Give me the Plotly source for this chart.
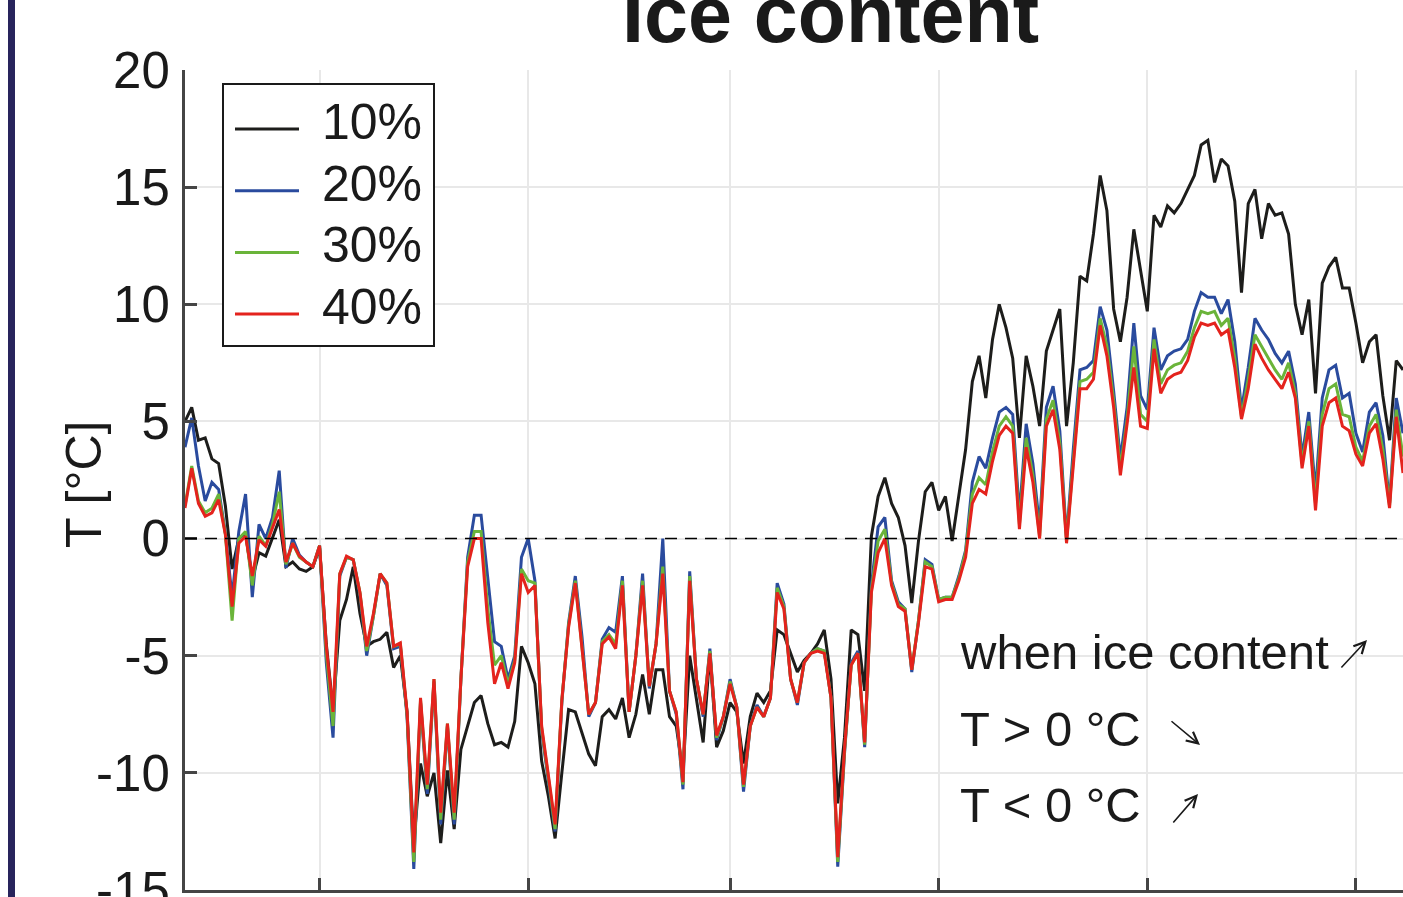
import plotly.graph_objects as go

# daily temperatures [°C] for different ice contents
t_10 = [5.0, 5.6, 4.2, 4.3, 3.4, 3.2, 1.4, -1.3, 0.0, 0.24, -1.75, -0.6, -0.75, 0.0, 0.8, -1.2, -1.0, -1.3, -1.4, -1.2,
        -0.4, -4.5, -7.3, -3.5, -2.6, -1.2, -3.2, -4.6, -4.4, -4.3, -4.0, -5.5, -5.0, -7.4, -13.0, -9.6, -11.0, -10.0, -13.0, -9.9,
        -12.4, -9.0, -8.0, -7.0, -6.7, -7.9, -8.8, -8.7, -8.9, -7.8, -4.6, -5.3, -6.2, -9.5, -11.0, -12.8, -10.0, -7.3, -7.4, -8.3,
        -9.2, -9.7, -7.6, -7.3, -7.7, -6.8, -8.5, -7.5, -5.8, -7.5, -5.6, -5.6, -7.6, -8.0, -10.0, -5.0, -6.8, -8.7, -4.9, -8.9,
        -8.2, -7.0, -7.4, -9.6, -7.6, -6.6, -7.0, -6.5, -3.9, -4.1, -4.9, -5.7, -5.2, -4.9, -4.5, -3.9, -6.0, -11.3, -8.5, -3.9,
        -4.1, -6.5, 0.1, 1.8, 2.6, 1.5, 0.9, -0.3, -2.75, -0.1, 2.0, 2.4, 1.2, 1.8, -0.1, 1.9, 3.8, 6.7, 7.8, 6.0,
        8.5, 10.0, 9.0, 7.7, 4.3, 7.8, 6.5, 4.8, 8.0, 8.9, 9.8, 4.8, 7.5, 11.2, 11.0, 13.0, 15.5, 14.0, 9.8, 8.4,
        10.3, 13.2, 11.5, 9.7, 13.8, 13.3, 14.2, 13.9, 14.3, 14.9, 15.5, 16.8, 17.0, 15.2, 16.2, 15.9, 14.4, 10.5, 14.3, 14.9,
        12.8, 14.3, 13.8, 13.9, 13.0, 10.0, 8.7, 10.2, 6.2, 10.9, 11.6, 12.0, 10.7, 10.7, 9.2, 7.5, 8.4, 8.7, 6.1, 4.2,
        7.6, 7.2]
t_20 = [3.9, 5.15, 3.1, 1.6, 2.4, 2.1, 0.24, -2.5, 0.3, 1.9, -2.5, 0.6, 0.0, 0.9, 2.9, -1.25, 0.0, -0.7, -1.0, -1.2,
        -0.3, -5.3, -8.5, -1.6, -0.8, -0.9, -2.4, -5.0, -3.3, -1.5, -2.0, -4.7, -4.6, -7.6, -14.1, -7.0, -10.9, -6.1, -12.2, -8.0,
        -12.2, -6.0, -0.8, 1.0, 1.0, -1.75, -4.4, -4.6, -6.0, -5.0, -0.8, 0.0, -1.8, -8.2, -10.3, -12.5, -7.0, -3.6, -1.6, -4.2,
        -7.6, -7.0, -4.3, -3.8, -4.0, -1.6, -7.4, -5.0, -1.5, -6.4, -4.5, 0.0, -6.5, -7.5, -10.7, -1.4, -6.0, -7.6, -4.7, -8.6,
        -7.6, -6.0, -7.2, -10.8, -8.0, -7.1, -7.6, -6.8, -1.9, -2.8, -6.0, -7.1, -5.3, -4.9, -4.7, -4.8, -6.8, -14.0, -9.2, -5.3,
        -4.8, -8.9, -2.0, 0.5, 0.9, -1.8, -2.7, -3.0, -5.7, -3.5, -0.9, -1.1, -2.6, -2.5, -2.5, -1.6, -0.5, 2.4, 3.5, 3.0,
        4.3, 5.4, 5.6, 5.3, 1.0, 4.9, 3.2, 0.5, 5.6, 6.5, 4.6, 0.0, 3.8, 7.2, 7.3, 7.6, 9.9, 8.9, 6.3, 3.4,
        5.6, 9.2, 6.1, 5.5, 9.0, 7.2, 7.8, 8.0, 8.1, 8.5, 9.7, 10.5, 10.3, 10.3, 9.6, 10.2, 8.4, 5.5, 7.3, 9.4,
        8.9, 8.5, 7.9, 7.5, 8.0, 6.6, 3.5, 5.4, 2.0, 6.0, 7.2, 7.4, 6.0, 6.2, 4.5, 3.7, 5.4, 5.8, 4.4, 1.5,
        6.0, 4.5]
t_30 = [1.4, 3.1, 1.6, 1.1, 1.3, 1.9, 0.2, -3.5, 0.0, 0.3, -2.0, 0.1, -0.3, 0.6, 2.0, -1.1, -0.2, -0.8, -1.0, -1.2,
        -0.3, -4.9, -8.0, -1.5, -0.8, -0.9, -2.3, -4.8, -3.3, -1.5, -1.9, -4.6, -4.5, -7.5, -13.8, -6.9, -10.7, -6.0, -12.0, -7.9,
        -12.0, -6.0, -1.0, 0.3, 0.3, -3.0, -5.4, -5.0, -6.2, -5.2, -1.3, -1.8, -1.9, -8.1, -10.2, -12.4, -6.9, -3.7, -1.8, -4.6,
        -7.5, -7.0, -4.4, -4.1, -4.5, -1.8, -7.4, -5.0, -1.8, -6.3, -4.5, -1.2, -6.5, -7.4, -10.5, -1.6, -6.0, -7.5, -4.8, -8.5,
        -7.6, -6.1, -7.2, -10.6, -8.0, -7.2, -7.6, -6.8, -2.1, -2.9, -6.0, -7.0, -5.3, -4.9, -4.7, -4.8, -6.8, -13.8, -9.1, -5.4,
        -4.9, -8.8, -2.2, -0.1, 0.4, -1.9, -2.8, -3.0, -5.6, -3.5, -1.0, -1.2, -2.6, -2.5, -2.5, -1.7, -0.6, 1.9, 2.6, 2.3,
        3.7, 4.8, 5.2, 4.8, 0.6, 4.3, 2.7, 0.1, 5.1, 5.9, 4.1, -0.1, 3.3, 6.7, 6.8, 7.1, 9.4, 8.2, 5.9, 3.0,
        5.1, 8.2, 5.3, 5.0, 8.5, 6.6, 7.2, 7.4, 7.5, 8.0, 9.0, 9.7, 9.6, 9.7, 9.1, 9.4, 7.7, 5.2, 6.8, 8.7,
        8.2, 7.7, 7.2, 6.8, 7.5, 6.2, 3.2, 5.0, 1.5, 5.3, 6.4, 6.6, 5.3, 5.2, 3.9, 3.3, 4.8, 5.3, 3.8, 1.4,
        5.5, 3.5]
t_40 = [1.3, 3.0, 1.5, 0.95, 1.1, 1.66, 0.17, -2.9, -0.2, 0.1, -1.6, -0.05, -0.33, 0.5, 1.24, -1.0, -0.2, -0.75, -1.0, -1.2,
        -0.3, -4.6, -7.4, -1.5, -0.75, -0.9, -2.3, -4.6, -3.2, -1.5, -1.9, -4.6, -4.45, -7.4, -13.4, -6.8, -10.5, -6.0, -11.7, -7.9,
        -11.7, -6.0, -1.2, 0.0, 0.0, -3.6, -6.2, -5.3, -6.4, -5.3, -1.5, -2.3, -2.0, -8.0, -10.0, -12.2, -6.9, -3.8, -1.9, -4.7,
        -7.5, -7.0, -4.5, -4.2, -4.7, -2.0, -7.4, -5.0, -2.0, -6.3, -4.5, -1.5, -6.5, -7.4, -10.4, -1.8, -6.0, -7.5, -4.9, -8.4,
        -7.6, -6.2, -7.2, -10.5, -8.0, -7.2, -7.6, -6.8, -2.3, -3.0, -6.0, -7.0, -5.3, -4.9, -4.8, -4.9, -6.8, -13.6, -9.0, -5.4,
        -4.9, -8.7, -2.3, -0.6, 0.0, -2.0, -2.9, -3.1, -5.6, -3.6, -1.2, -1.3, -2.7, -2.6, -2.6, -1.8, -0.8, 1.5, 2.1, 1.9,
        3.3, 4.4, 4.8, 4.5, 0.4, 3.9, 2.4, 0.0, 4.8, 5.5, 3.8, -0.2, 3.0, 6.4, 6.4, 6.8, 9.1, 7.8, 5.6, 2.7,
        4.9, 7.3, 4.8, 4.7, 8.1, 6.2, 6.8, 7.0, 7.1, 7.6, 8.6, 9.2, 9.1, 9.2, 8.7, 8.9, 7.3, 5.1, 6.4, 8.3,
        7.7, 7.2, 6.8, 6.4, 7.1, 6.0, 3.0, 4.8, 1.2, 4.8, 5.8, 6.0, 4.8, 4.6, 3.6, 3.1, 4.5, 4.9, 3.4, 1.3,
        5.2, 2.8]
days = list(range(len(t_40)))

series_names = ['10%', '20%', '30%', '40%']
series_values = [t_10, t_20, t_30, t_40]
series_colors = ['#1d1d1b', '#2a4b9e', '#6ab43a', '#e4231d']

y_ticks = [-15, -10, -5, 0, 5, 10, 15, 20]
y_ticktext = [str(v) for v in y_ticks]  # plain hyphen like the original
x_ticks = [20, 51, 81, 112, 143, 174]

note_lines = ['when ice content', 'T > 0 °C', 'T < 0 °C']

FONT = 'Liberation Sans, Arial, sans-serif'
TXT = '#1a1a1a'
AXC = '#454545'

fig = go.Figure()
for name, vals, col in zip(series_names, series_values, series_colors):
    fig.add_trace(go.Scatter(x=days, y=vals, mode='lines', name=name,
                             line=dict(color=col, width=3), showlegend=False))

fig.update_layout(
    width=1403, height=897,
    margin=dict(l=185, r=0, t=70, b=7),
    plot_bgcolor='white', paper_bgcolor='white',
)
fig.update_xaxes(range=[0, 181], tickvals=x_ticks, showticklabels=False, automargin=False,
                 ticks='inside', ticklen=12, tickwidth=3, tickcolor=AXC,
                 showline=True, linewidth=3, linecolor=AXC,
                 showgrid=True, gridcolor='#e8e8e8', gridwidth=1.5, zeroline=False)
fig.update_yaxes(range=[-15, 20], tickvals=y_ticks, ticktext=y_ticktext, automargin=False,
                 ticks='inside', ticklen=12, tickwidth=3, tickcolor=AXC,
                 showline=True, linewidth=3, linecolor=AXC,
                 showgrid=True, gridcolor='#e8e8e8', gridwidth=1.5, zeroline=False,
                 tickfont=dict(family=FONT, size=51, color=TXT), ticklabelstandoff=2,
                 ticklabeloverflow='allow')

# dashed zero line
fig.add_shape(type='line', xref='x domain', yref='y', x0=0, x1=1, y0=0, y1=0,
              line=dict(color='black', width=1.5, dash='12px,8px'))


def px(x):
    return (x - 185) / 1218


def py(y):
    return (890 - y) / 820


# navy bar on the left edge
fig.add_shape(type='rect', xref='paper', yref='paper', x0=px(8), x1=px(15), y0=py(905), y1=py(-10),
              line=dict(width=0), fillcolor='#28245c')

# legend drawn by hand
fig.add_shape(type='rect', xref='paper', yref='paper', x0=px(223), x1=px(434), y0=py(346), y1=py(84),
              line=dict(color=TXT, width=2), fillcolor='white')
for i, (name, col) in enumerate(zip(series_names, series_colors)):
    yy = 129 + i * 61.7
    fig.add_shape(type='line', xref='paper', yref='paper', x0=px(235), x1=px(299), y0=py(yy), y1=py(yy),
                  line=dict(color=col, width=3))
    fig.add_annotation(xref='paper', yref='paper', x=px(320), y=py(yy - 7), text=name, showarrow=False,
                       xanchor='left', yanchor='middle', font=dict(family=FONT, size=50, color=TXT))

# title (cropped at the top, as in the original) and axis title
fig.add_annotation(xref='paper', yref='paper', x=px(830), y=py(15), text='Ice content', showarrow=False,
                   xanchor='center', yanchor='middle',
                   font=dict(family=FONT, size=79, color=TXT, weight='bold'))
fig.add_annotation(xref='paper', yref='paper', x=px(84), y=py(485), text='T [°C]', showarrow=False,
                   textangle=-90, xanchor='center', yanchor='middle',
                   font=dict(family=FONT, size=50, color=TXT))

# notes
for txt, yc in zip(note_lines, [652, 729, 805]):
    fig.add_annotation(xref='paper', yref='paper', x=px(958), y=py(yc), text=txt, showarrow=False,
                       xanchor='left', yanchor='middle', font=dict(family=FONT, size=49, color=TXT))

for (hx, hy, ax, ay) in [(1367, 640, -27, 29), (1200, 745, -30, -25), (1198, 794, -26, 30)]:
    fig.add_annotation(xref='paper', yref='paper', x=px(hx), y=py(hy), ax=ax, ay=ay, text='',
                       showarrow=True, arrowhead=5, arrowsize=1.4, arrowwidth=1.6, arrowcolor=TXT)

fig.write_html('out.html', config={'displayModeBar': False},
               post_script="document.body.style.margin='0';document.body.style.overflow='hidden';")
